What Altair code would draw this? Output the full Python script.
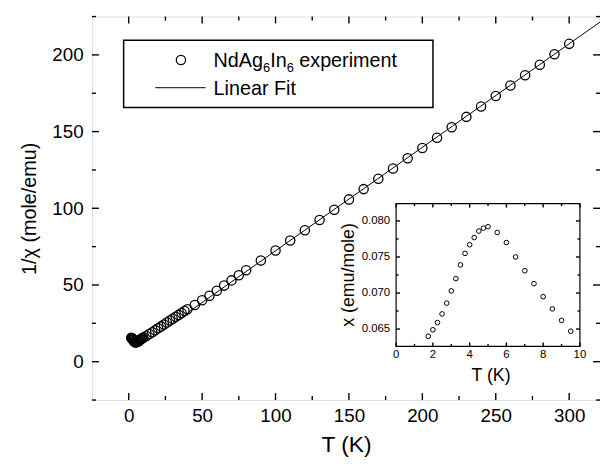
import altair as alt
import pandas as pd

# ---------------- data ----------------
# main panel: 1/chi vs T
T_low = [1.75, 2.0, 2.25, 2.5, 2.75, 3.0, 3.25, 3.5, 3.75, 4.0, 4.25, 4.5, 4.75,
         5.0, 5.5, 6.0, 6.5, 7.0, 7.5, 8.0, 8.5, 9.0, 9.5]
inv_low = [15.6, 15.4, 15.2, 14.9, 14.6, 14.2, 13.9, 13.5, 13.2, 13.0, 12.9, 12.7, 12.7,
           12.6, 12.8, 13.0, 13.3, 13.7, 14.0, 14.4, 14.7, 15.1, 15.5]
T_high = [10, 12, 14, 16, 18, 20, 22, 24, 26, 28, 30, 32, 34, 36, 38, 40,
          45, 50, 55, 60, 65, 70, 75, 80,
          90, 100, 110, 120, 130, 140, 150, 160, 170, 180, 190, 200,
          210, 220, 230, 240, 250, 260, 270, 280, 290, 300]
inv_high = [15.9, 16.8, 18.0, 19.2, 20.5, 21.8, 23.0, 24.3, 25.5, 26.8, 28.0, 29.3, 30.5, 31.7, 33.0, 34.2,
            37.0, 40.0, 43.0, 46.3, 49.6, 53.0, 56.3, 59.6,
            66.0, 72.5, 79.0, 85.7, 92.4, 99.1, 105.8, 112.5, 119.2, 125.9, 132.6, 139.3,
            146.0, 152.8, 159.6, 166.4, 173.2, 180.0, 186.8, 193.6, 200.4, 207.2]
fit_T = [40, 321]
fit_v = [31.8, 221.4]

# inset: chi vs T
inset_T = T_low
inset_chi = [0.0640, 0.0649, 0.0659, 0.0671, 0.0686, 0.0703, 0.0720, 0.0739, 0.0755,
             0.0767, 0.0777, 0.0786, 0.0790, 0.0792, 0.0784, 0.0770, 0.0750, 0.0731,
             0.0713, 0.0695, 0.0678, 0.0662, 0.0647]

x_major = [0, 50, 100, 150, 200, 250, 300]
x_minor = [25, 75, 125, 175, 225, 275]
y_major = [0, 50, 100, 150, 200]
y_minor = [-25, 25, 75, 125, 175, 225]

ix_major = [0, 2, 4, 6, 8, 10]
ix_minor = [1, 3, 5, 7, 9]
iy_major = [0.065, 0.070, 0.075, 0.080]
iy_labels = ["0.065", "0.070", "0.075", "0.080"]
iy_minor = [0.0675, 0.0725, 0.0775]

# ---------------- layout constants ----------------
W, H = 514, 388
FONT = "Liberation Sans"
XDOM = [-25, 321]
YDOM = [-25, 225]
# inset frame in plot pixels
IX0, IX1, IY0, IY1 = 307.7, 493.7, 189.3, 333.7
IXDOM = [0, 10]
IYDOM = [0.0626, 0.0824]

main_df = pd.DataFrame({"T": T_low + T_high, "v": inv_low + inv_high})
fit_df = pd.DataFrame({"T": fit_T, "v": fit_v})
one = pd.DataFrame({"a": [0]})

xs = alt.Scale(domain=XDOM, nice=False, zero=False)
ys = alt.Scale(domain=YDOM, nice=False, zero=False)

xaxis = alt.Axis(values=x_major, ticks=False, domain=False, grid=False,
                 labelFontSize=19, labelPadding=7, labelColor="black",
                 title="T (K)", titleFontSize=23, titleFontWeight="normal",
                 titlePadding=8, titleColor="black", labelFont=FONT, titleFont=FONT)
yaxis = alt.Axis(values=y_major, ticks=False, domain=False, grid=False,
                 labelFontSize=19, labelPadding=9, labelColor="black",
                 title="1/\u03c7 (mole/emu)", titleFontSize=20, titleFontWeight="normal",
                 titlePadding=12, titleColor="black", labelFont=FONT, titleFont=FONT)

MSIZE, MSW = 88, 1.3
points = alt.Chart(main_df).mark_point(shape="circle", filled=False, size=MSIZE,
                                       strokeWidth=MSW, color="black", opacity=1).encode(
    x=alt.X("T:Q", scale=xs, axis=xaxis),
    y=alt.Y("v:Q", scale=ys, axis=yaxis),
)
fit = alt.Chart(fit_df).mark_line(color="black", strokeWidth=1).encode(
    x=alt.X("T:Q", scale=xs), y=alt.Y("v:Q", scale=ys))


def xticks(vals, length, scale, top, bottom):
    df = pd.DataFrame({"t": vals})
    b = alt.Chart(df).mark_rule(color="black", strokeWidth=1.4).encode(
        x=alt.X("t:Q", scale=scale), y=alt.value(bottom), y2=alt.value(bottom - length))
    t = alt.Chart(df).mark_rule(color="black", strokeWidth=1.4).encode(
        x=alt.X("t:Q", scale=scale), y=alt.value(top), y2=alt.value(top + length))
    return [b, t]


def yticks(vals, length, scale, left, right):
    df = pd.DataFrame({"t": vals})
    l = alt.Chart(df).mark_rule(color="black", strokeWidth=1.4).encode(
        y=alt.Y("t:Q", scale=scale), x=alt.value(left), x2=alt.value(left + length))
    r = alt.Chart(df).mark_rule(color="black", strokeWidth=1.4).encode(
        y=alt.Y("t:Q", scale=scale), x=alt.value(right), x2=alt.value(right - length))
    return [l, r]


main_ticks = (xticks(x_major, 7, xs, 0, H) + xticks(x_minor, 4, xs, 0, H)
              + yticks(y_major, 7, ys, 0, W) + yticks(y_minor, 4, ys, 0, W))

# legend
leg_box = alt.Chart(one).mark_rect(fill="white", stroke="black", strokeWidth=1.5).encode(
    x=alt.value(32), x2=alt.value(345), y=alt.value(24), y2=alt.value(92))
leg_pt = alt.Chart(one).mark_point(shape="circle", filled=False, size=MSIZE,
                                   strokeWidth=MSW, color="black", opacity=1).encode(
    x=alt.value(90), y=alt.value(44))
leg_line = alt.Chart(one).mark_rule(color="black", strokeWidth=1).encode(
    x=alt.value(64), x2=alt.value(115), y=alt.value(72))

FS, SFS = 20, 13
def aw(s, size):
    w = {"N": .722, "d": .556, "A": .667, "g": .556, "I": .278, "n": .556, "6": .556}
    return sum(w[c] for c in s) * size

x0 = 123
pieces = [("NdAg", FS, 0), ("6", SFS, 5), ("In", FS, 0), ("6", SFS, 5)]
leg_text = []
cx = x0
for txt, size, dy in pieces:
    leg_text.append(alt.Chart(one).mark_text(text=txt, font=FONT, fontSize=size, align="left",
                                             baseline="alphabetic", color="black").encode(
        x=alt.value(cx), y=alt.value(51 + dy)))
    cx += aw(txt, size)
leg_text.append(alt.Chart(one).mark_text(text="experiment", font=FONT, fontSize=FS, align="left",
                                         baseline="alphabetic", color="black").encode(
    x=alt.value(cx + 0.278 * FS), y=alt.value(51)))
leg_text.append(alt.Chart(one).mark_text(text="Linear Fit", font=FONT, fontSize=FS, align="left",
                                         baseline="alphabetic", color="black").encode(
    x=alt.value(x0), y=alt.value(79)))

main = alt.layer(fit, points, *main_ticks, leg_box, leg_pt, leg_line, *leg_text)

# ---------------- inset ----------------
ixs = alt.Scale(domain=IXDOM, range=[IX0, IX1], nice=False, zero=False)
iys = alt.Scale(domain=IYDOM, range=[IY1, IY0], nice=False, zero=False)
inset_df = pd.DataFrame({"T": inset_T, "chi": inset_chi})

frame = alt.Chart(pd.DataFrame({"x0": [IXDOM[0]], "x1": [IXDOM[1]], "y0": [IYDOM[0]], "y1": [IYDOM[1]]})).mark_rect(
    fill="white", stroke="black", strokeWidth=1.2).encode(
    x=alt.X("x0:Q", scale=ixs, axis=None), x2="x1:Q",
    y=alt.Y("y0:Q", scale=iys, axis=None), y2="y1:Q")
ipts = alt.Chart(inset_df).mark_point(shape="circle", filled=False, size=22,
                                      strokeWidth=1, color="black", opacity=1).encode(
    x=alt.X("T:Q", scale=ixs, axis=None), y=alt.Y("chi:Q", scale=iys, axis=None))

inset_ticks = (xticks(ix_major, 4, ixs, IY0, IY1) + xticks(ix_minor, 2.5, ixs, IY0, IY1)
               + yticks(iy_major, 4, iys, IX0, IX1) + yticks(iy_minor, 2.5, iys, IX0, IX1))

ixlab = alt.Chart(pd.DataFrame({"t": ix_major})).mark_text(
    font=FONT, fontSize=11.5, baseline="middle", align="center", color="black").encode(
    x=alt.X("t:Q", scale=ixs), y=alt.value(IY1 + 9), text="t:N")
iylab = alt.Chart(pd.DataFrame({"t": iy_major, "lab": iy_labels})).mark_text(
    font=FONT, fontSize=11.5, baseline="middle", align="right", color="black").encode(
    y=alt.Y("t:Q", scale=iys), x=alt.value(IX0 - 6), text="lab:N")
ixtitle = alt.Chart(one).mark_text(text="T (K)", font=FONT, fontSize=18, baseline="middle",
                                   align="center", color="black").encode(
    x=alt.value((IX0 + IX1) / 2 + 3), y=alt.value(IY1 + 30))
iytitle = alt.Chart(one).mark_text(text="x (emu/mole)", font=FONT, fontSize=18, baseline="middle",
                                   align="center", angle=270, color="black").encode(
    x=alt.value(IX0 - 48), y=alt.value((IY0 + IY1) / 2))

inset = alt.layer(frame, ipts, *inset_ticks, ixlab, iylab, ixtitle, iytitle)

chart = alt.layer(main, inset).resolve_scale(x="independent", y="independent").properties(
    width=W, height=H, autosize="none",
    padding={"left": 85, "top": 6, "right": 0, "bottom": 56},
).configure_view(stroke="black", strokeWidth=1.6).configure(font=FONT)

chart.save("out.html", embed_options={"renderer": "svg", "actions": False})
